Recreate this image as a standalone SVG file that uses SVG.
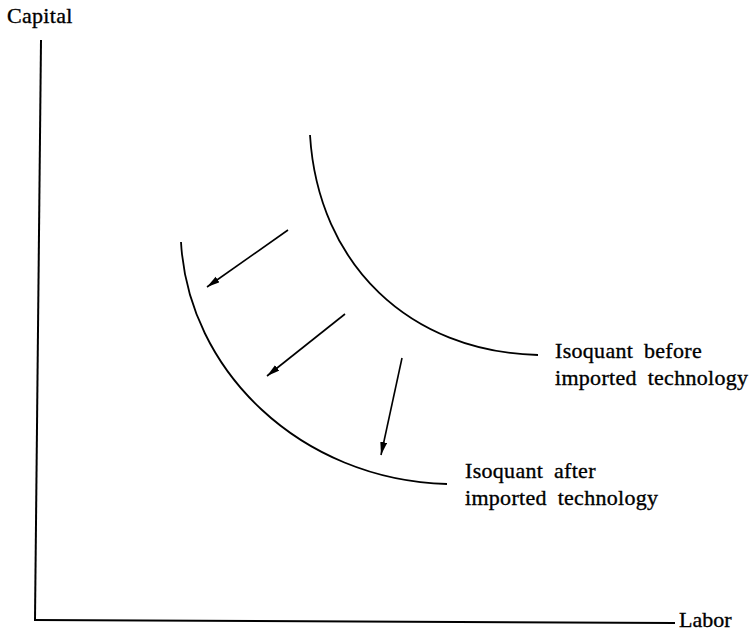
<svg xmlns="http://www.w3.org/2000/svg" width="753" height="631" viewBox="0 0 753 631">
<style>
.ax{stroke:#000;stroke-width:2;fill:none}
.curve{stroke:#000;stroke-width:1.8;fill:none}
.arr{stroke:#000;stroke-width:1.6;fill:none}
.t{font-family:"Liberation Serif","Times New Roman",serif;font-size:22px;fill:#000;stroke:#000;stroke-width:0.35}
.lbl{letter-spacing:0.3px;word-spacing:5px}
</style>
<defs>
<marker id="ah" markerUnits="userSpaceOnUse" markerWidth="14" markerHeight="8" refX="13" refY="3.5" orient="auto">
<path d="M0,0 L13,3.5 L0,7 Z" fill="#000"/>
</marker>
</defs>
<rect width="753" height="631" fill="#fff"/>
<g id="axes">
<line class="ax" x1="41" y1="40" x2="35" y2="620"/>
<line class="ax" x1="34" y1="620" x2="675" y2="623"/>
<text class="t" x="7" y="23" style="letter-spacing:0.3px">Capital</text>
<text class="t" x="679" y="627">Labor</text>
</g>
<g id="isoquant-before">
<path class="curve" d="M310,135 C318,265 410,352 538,355"/>
<text class="t lbl" x="555" y="358">Isoquant before</text>
<text class="t lbl" x="555" y="385">imported technology</text>
</g>
<g id="isoquant-after">
<path class="curve" d="M181,242 C188,370 300,480 447,484"/>
<text class="t lbl" x="465" y="478">Isoquant after</text>
<text class="t lbl" x="465" y="505">imported technology</text>
</g>
<g id="connectors">
<line class="arr" x1="288" y1="230" x2="207" y2="287" marker-end="url(#ah)"/>
<line class="arr" x1="345" y1="314" x2="267" y2="376" marker-end="url(#ah)"/>
<line class="arr" x1="402" y1="358" x2="381" y2="455" marker-end="url(#ah)"/>
</g>
</svg>
